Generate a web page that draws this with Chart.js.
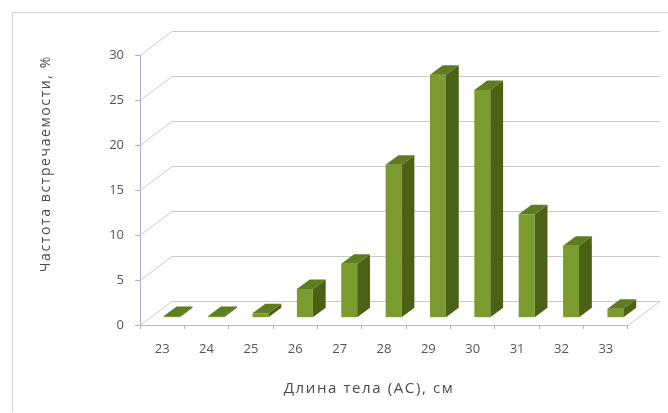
<!DOCTYPE html>
<html>
<head>
<meta charset="utf-8">
<script src="https://cdn.jsdelivr.net/npm/chart.js@4"></script>
<style>
  html, body { margin: 0; padding: 0; background: #ffffff; }
  #wrap { width: 668px; height: 413px; }
</style>
</head>
<body>
<div id="wrap"><canvas id="lengthChart" width="668" height="413"></canvas></div>
<script>
// body length classes, cm
const lengths = ['23', '24', '25', '26', '27', '28', '29', '30', '31', '32', '33'];
// frequency of occurrence, %
const frequency = [0.2, 0.2, 0.5, 3.2, 6, 17, 27, 25.3, 11.5, 8, 1];
const yTicks = [0, 5, 10, 15, 20, 25, 30];

const xTitle = 'Длина тела (АС), см';
const yTitle = 'Частота встречаемости, %';

// depth of the fake 3d box
const depthX = 32;
const depthY = -24;

const textColor = '#555555';
const fontName = '"Open Sans", "DejaVu Sans", sans-serif';

const boxPlugin = {
    id: 'box3d',
    beforeDatasetsDraw(chart) {
        const ctx = chart.ctx;
        const area = chart.chartArea;
        const y = chart.scales.y;

        ctx.save();
        // outer frame
        ctx.strokeStyle = '#d4d4d4';
        ctx.lineWidth = 1;
        ctx.beginPath();
        ctx.moveTo(12.5, 412);
        ctx.lineTo(12.5, 12.5);
        ctx.lineTo(668, 12.5);
        ctx.stroke();

        // back wall grid and side wall diagonals
        ctx.strokeStyle = '#c8c8c8';
        yTicks.forEach(v => {
            const py = Math.round(y.getPixelForValue(v)) + 0.5;
            ctx.beginPath();
            ctx.moveTo(area.left, py);
            ctx.lineTo(area.left + depthX, py + depthY);
            ctx.lineTo(area.right + depthX, py + depthY);
            ctx.stroke();
        });
        // floor right edge
        const py0 = Math.round(y.getPixelForValue(0)) + 0.5;
        ctx.beginPath();
        ctx.moveTo(area.right, py0);
        ctx.lineTo(area.right + depthX, py0 + depthY);
        ctx.stroke();
        ctx.restore();

        // bars stand in the middle of the depth
        ctx.save();
        ctx.translate(depthX * 0.3, depthY * 0.3);
    },
    afterDatasetsDraw(chart) {
        const ctx = chart.ctx;
        const ox = depthX * 0.4;
        const oy = depthY * 0.4;
        chart.getDatasetMeta(0).data.forEach(bar => {
            const left = bar.x - bar.width / 2;
            const right = bar.x + bar.width / 2;
            const top = bar.y;
            const bottom = bar.base;
            // side
            ctx.fillStyle = '#4b6215';
            ctx.beginPath();
            ctx.moveTo(right, top);
            ctx.lineTo(right + ox, top + oy);
            ctx.lineTo(right + ox, bottom + oy);
            ctx.lineTo(right, bottom);
            ctx.closePath();
            ctx.fill();
            // top
            ctx.fillStyle = '#5f7c20';
            ctx.beginPath();
            ctx.moveTo(left, top);
            ctx.lineTo(left + ox, top + oy);
            ctx.lineTo(right + ox, top + oy);
            ctx.lineTo(right, top);
            ctx.closePath();
            ctx.fill();
        });
        ctx.restore();
    },
    afterDraw(chart) {
        const ctx = chart.ctx;
        const area = chart.chartArea;
        ctx.save();
        ctx.fillStyle = '#4a4a4a';
        ctx.letterSpacing = '1.6px';
        ctx.font = '15px ' + fontName;
        ctx.textAlign = 'center';
        ctx.textBaseline = 'middle';
        ctx.fillText(xTitle, 369, 389);
        ctx.translate(46, area.top);
        ctx.rotate(-Math.PI / 2);
        ctx.textAlign = 'right';
        ctx.font = '14px ' + fontName;
        ctx.fillText(yTitle, 0, 0);
        ctx.restore();
    }
};

new Chart(document.getElementById('lengthChart'), {
    type: 'bar',
    data: {
        labels: lengths,
        datasets: [{
            data: frequency,
            backgroundColor: '#7b9b2f',
            barPercentage: 0.72,
            categoryPercentage: 0.5
        }]
    },
    options: {
        responsive: false,
        animation: false,
        events: [],
        layout: { padding: { top: 55, right: 40, left: 30, bottom: 0 } },
        plugins: {
            legend: { display: false },
            tooltip: { enabled: false }
        },
        scales: {
            x: {
                afterFit: scale => { scale.height = 88; },
                grid: {
                    offset: true,
                    drawOnChartArea: false,
                    tickLength: 4,
                    color: '#b0b0b0'
                },
                border: { color: '#b8b8c8' },
                ticks: {
                    padding: 12,
                    color: textColor,
                    font: { family: fontName, size: 13 }
                }
            },
            y: {
                min: 0,
                max: 30,
                afterFit: scale => { scale.width = 110; },
                afterBuildTicks: scale => {
                    scale.ticks = yTicks.map(v => ({ value: v }));
                },
                grid: {
                    drawOnChartArea: false,
                    tickLength: 5,
                    color: '#b0b0b0'
                },
                border: { color: '#a8a8d0' },
                ticks: {
                    padding: 11,
                    color: textColor,
                    font: { family: fontName, size: 13 }
                }
            }
        }
    },
    plugins: [boxPlugin]
});
</script>
</body>
</html>
